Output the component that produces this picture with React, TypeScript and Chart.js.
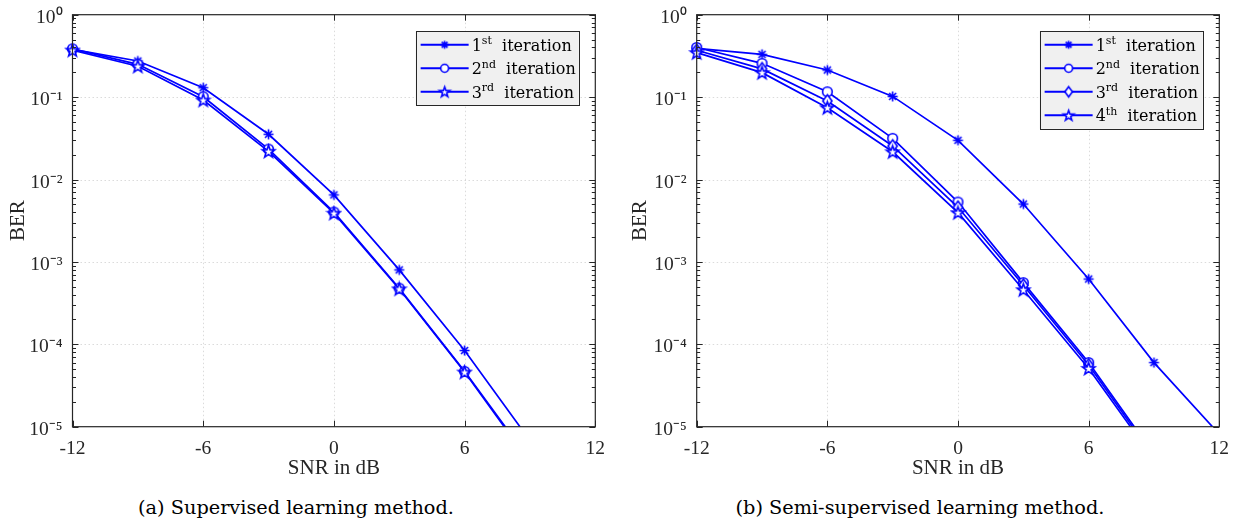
import React, { useEffect, useRef } from 'react';
import { Chart, registerables } from 'chart.js';

Chart.register(...registerables);

// ---------------- data ----------------
const snrSupervised = [-12, -9, -6, -3, 0, 3, 6, 9];
const supIter1 = [0.38, 0.274, 0.13, 0.0354, 0.0065, 8.0e-4, 8.4e-5, 6.8e-6];
const supIter2 = [0.385, 0.25, 0.101, 0.0234, 0.00403, 4.8e-4, 4.7e-5, 3.9e-6];
const supIter3 = [0.372, 0.237, 0.092, 0.022, 0.0039, 4.7e-4, 4.6e-5, 3.7e-6];

const snrSemi = [-12, -9, -6, -3, 0, 3, 6, 9, 12];
const semiIter1 = [0.39, 0.33, 0.213, 0.102, 0.0299, 0.00504, 6.2e-4, 6.0e-5, 8.1e-6];
const semiIter2 = [0.4, 0.257, 0.116, 0.0316, 0.00533, 5.6e-4, 6.0e-5, 4.6e-6];
const semiIter3 = [0.37, 0.22, 0.0897, 0.0255, 0.0046, 5.2e-4, 5.6e-5, 4.3e-6];
const semiIter4 = [0.346, 0.198, 0.0743, 0.0217, 0.00396, 4.6e-4, 5.1e-5, 4.0e-6];

const xTickValues = [-12, -6, 0, 6, 12];
const xTickLabels = ['-12', '-6', '0', '6', '12'];
const yTickValues = [1e-5, 1e-4, 1e-3, 1e-2, 1e-1, 1];
const yTickLabels = ['10⁻⁵', '10⁻⁴', '10⁻³', '10⁻²', '10⁻¹', '10⁰'];
const ordinalNums = ['1', '2', '3', '4'];
const ordinalSuffixes = ['st', 'nd', 'rd', 'th'];
const legendWord = 'iteration';
const xTitle = 'SNR in dB';
const yTitle = 'BER';
const captions = ['(a) Supervised learning method.', '(b) Semi-supervised learning method.'];

// ---------------- style ----------------
const BLUE = '#0000ff';
const AXIS = '#262626';
const TICK_FONT = { family: "'Liberation Serif', 'Times New Roman', serif", size: 19.5 };
const TITLE_FONT = { family: "'Liberation Serif', 'Times New Roman', serif", size: 21 };
const LEG_FONT = "16px 'DejaVu Serif', serif";
const LEG_SUP_FONT = "11px 'DejaVu Serif', serif";
const FONT_LOADS = ["19.5px 'Liberation Serif'", "21px 'Liberation Serif'", "16px 'DejaVu Serif'", "11px 'DejaVu Serif'"];

type MarkerKind = 'asterisk' | 'circle' | 'diamond' | 'pentagram';

function makeMarker(kind: MarkerKind, scale: number): HTMLCanvasElement {
  const size = 17;
  const c = document.createElement('canvas');
  c.width = size;
  c.height = size;
  const ctx = c.getContext('2d')!;
  const m = size / 2;
  ctx.strokeStyle = BLUE;
  ctx.fillStyle = '#ffffff';
  ctx.lineWidth = 1.6;
  ctx.beginPath();
  if (kind === 'asterisk') {
    const r = 5 * scale;
    for (let k = 0; k < 4; k++) {
      const a = (k * Math.PI) / 4;
      ctx.moveTo(m - r * Math.cos(a), m - r * Math.sin(a));
      ctx.lineTo(m + r * Math.cos(a), m + r * Math.sin(a));
    }
    ctx.stroke();
  } else if (kind === 'circle') {
    ctx.arc(m, m, 4.8 * scale, 0, Math.PI * 2);
    ctx.fill();
    ctx.stroke();
  } else if (kind === 'diamond') {
    ctx.moveTo(m, m - 6.2 * scale);
    ctx.lineTo(m + 4.6 * scale, m);
    ctx.lineTo(m, m + 6.2 * scale);
    ctx.lineTo(m - 4.6 * scale, m);
    ctx.closePath();
    ctx.fill();
    ctx.stroke();
  } else {
    const R = 6.6 * scale;
    const r = R * 0.4;
    for (let k = 0; k < 10; k++) {
      const rad = k % 2 === 0 ? R : r;
      const a = -Math.PI / 2 + (k * Math.PI) / 5;
      const px = m + rad * Math.cos(a);
      const py = m + 0.5 + rad * Math.sin(a);
      if (k === 0) ctx.moveTo(px, py);
      else ctx.lineTo(px, py);
    }
    ctx.closePath();
    ctx.fill();
    ctx.stroke();
  }
  return c;
}

// grid, box and minor ticks in MATLAB style
const matlabAxes = {
  id: 'matlabAxes',
  beforeDatasetsDraw(chart: any) {
    const { ctx, chartArea: a, scales } = chart;
    const x = scales.x;
    const y = scales.y;
    ctx.save();
    ctx.strokeStyle = 'rgba(0,0,0,0.14)';
    ctx.lineWidth = 1;
    ctx.setLineDash([1.5, 2.5]);
    ctx.beginPath();
    xTickValues.slice(1, -1).forEach((v) => {
      const px = Math.round(x.getPixelForValue(v)) + 0.5;
      ctx.moveTo(px, a.top);
      ctx.lineTo(px, a.bottom);
    });
    yTickValues.slice(1, -1).forEach((v) => {
      const py = Math.round(y.getPixelForValue(v)) + 0.5;
      ctx.moveTo(a.left, py);
      ctx.lineTo(a.right, py);
    });
    ctx.stroke();
    ctx.restore();
  },
  afterDatasetsDraw(chart: any) {
    const { ctx, chartArea: a, scales } = chart;
    const x = scales.x;
    const y = scales.y;
    ctx.save();
    ctx.strokeStyle = AXIS;
    ctx.lineWidth = 1;
    ctx.beginPath();
    xTickValues.forEach((v) => {
      const px = Math.round(x.getPixelForValue(v)) + 0.5;
      ctx.moveTo(px, a.bottom);
      ctx.lineTo(px, a.bottom - 6);
      ctx.moveTo(px, a.top);
      ctx.lineTo(px, a.top + 6);
    });
    for (let e = -5; e <= 0; e++) {
      for (let m = 1; m <= 9; m++) {
        if (e === 0 && m > 1) break;
        const v = m * Math.pow(10, e);
        const py = Math.round(y.getPixelForValue(v)) + 0.5;
        const len = m === 1 ? 6 : 3.5;
        ctx.moveTo(a.left, py);
        ctx.lineTo(a.left + len, py);
        ctx.moveTo(a.right, py);
        ctx.lineTo(a.right - len, py);
      }
    }
    ctx.stroke();
    ctx.lineWidth = 1.2;
    ctx.strokeRect(a.left, a.top, a.right - a.left, a.bottom - a.top);
    ctx.restore();
  },
};

// legend with superscript ordinals
const iterLegend = {
  id: 'iterLegend',
  afterDraw(chart: any, _args: any, opts: any) {
    const items: { num: string; suf: string; marker: HTMLCanvasElement }[] = opts.items || [];
    if (!items.length) return;
    const { ctx, chartArea: a } = chart;
    ctx.save();
    const widths = items.map((it) => {
      ctx.font = LEG_FONT;
      const w1 = ctx.measureText(it.num).width;
      const w3 = ctx.measureText('  ' + legendWord).width;
      ctx.font = LEG_SUP_FONT;
      const w2 = ctx.measureText(it.suf).width;
      return w1 + w2 + w3;
    });
    const textX = 56;
    const rowH = 23.5;
    const boxW = textX + Math.max(...widths) + 3;
    const boxH = items.length * rowH + 3.5;
    const left = a.right - 16.5 - boxW;
    const top = a.top + 16.6;
    ctx.fillStyle = '#f0f0f0';
    ctx.fillRect(left, top, boxW, boxH);
    ctx.strokeStyle = AXIS;
    ctx.lineWidth = 1;
    ctx.strokeRect(Math.round(left) + 0.5, Math.round(top) + 0.5, Math.round(boxW), Math.round(boxH));
    items.forEach((it, i) => {
      const cy = top + 1.75 + rowH / 2 + i * rowH;
      ctx.strokeStyle = BLUE;
      ctx.lineWidth = 2;
      ctx.beginPath();
      ctx.moveTo(left + 5, cy);
      ctx.lineTo(left + 53, cy);
      ctx.stroke();
      ctx.drawImage(it.marker, left + 29 - it.marker.width / 2, cy - it.marker.height / 2);
      ctx.fillStyle = '#000000';
      ctx.textBaseline = 'alphabetic';
      ctx.textAlign = 'left';
      const base = cy + 5.8;
      let tx = left + textX;
      ctx.font = LEG_FONT;
      ctx.fillText(it.num, tx, base);
      tx += ctx.measureText(it.num).width;
      ctx.font = LEG_SUP_FONT;
      ctx.fillText(it.suf, tx, base - 6.5);
      tx += ctx.measureText(it.suf).width;
      ctx.font = LEG_FONT;
      ctx.fillText('  ' + legendWord, tx, base);
    });
    ctx.restore();
  },
};

type Series = { values: number[]; marker: MarkerKind };

function buildConfig(
  snr: number[],
  series: Series[],
  yAxisWidth: number,
  rightPad: number,
  yTitlePad: number
) {
  const markers = series.map((s) => makeMarker(s.marker, 1));
  const legMarkers = series.map((s) => makeMarker(s.marker, 0.82));
  const datasets = series.map((s, i) => ({
    label: ordinalNums[i] + ordinalSuffixes[i] + ' ' + legendWord,
    data: s.values.map((v, k) => ({ x: snr[k], y: v })),
    borderColor: BLUE,
    backgroundColor: BLUE,
    borderWidth: 1.7,
    pointStyle: markers[i],
    pointRadius: 5,
    pointHoverRadius: 5,
    tension: 0,
    clip: { left: 12, right: 12, top: 12, bottom: 0 },
    order: series.length - i,
  }));
  return {
    type: 'line',
    data: { datasets },
    plugins: [matlabAxes, iterLegend],
    options: {
      animation: false,
      responsive: false,
      maintainAspectRatio: false,
      events: [],
      layout: { padding: { left: 0, top: 14.7, right: rightPad, bottom: 0 } },
      plugins: {
        legend: { display: false },
        tooltip: { enabled: false },
        iterLegend: {
          items: series.map((_s, i) => ({ num: ordinalNums[i], suf: ordinalSuffixes[i], marker: legMarkers[i] })),
        },
      },
      scales: {
        x: {
          type: 'linear',
          min: -12,
          max: 12,
          afterBuildTicks: (s: any) => {
            s.ticks = xTickValues.map((v) => ({ value: v }));
          },
          afterFit: (s: any) => {
            s.height = 58.3;
          },
          ticks: {
            autoSkip: false,
            maxRotation: 0,
            padding: 2,
            color: AXIS,
            font: TICK_FONT,
            callback: (v: number) => {
              const i = xTickValues.indexOf(v);
              return i >= 0 ? xTickLabels[i] : '';
            },
          },
          grid: { display: false },
          border: { display: false },
          title: { display: true, text: xTitle, color: AXIS, font: TITLE_FONT, padding: { top: 0, bottom: 3.5 } },
        },
        y: {
          type: 'logarithmic',
          min: 1e-5,
          max: 1,
          afterBuildTicks: (s: any) => {
            s.ticks = yTickValues.map((v) => ({ value: v }));
          },
          afterFit: (s: any) => {
            s.width = yAxisWidth;
          },
          ticks: {
            autoSkip: false,
            padding: 2,
            labelOffset: 3,
            color: AXIS,
            font: TICK_FONT,
            callback: (v: number) => {
              const i = yTickValues.findIndex((t) => Math.abs(Math.log10(t) - Math.log10(v)) < 1e-6);
              return i >= 0 ? yTickLabels[i] : '';
            },
          },
          grid: { display: false },
          border: { display: false },
          title: { display: true, text: yTitle, color: AXIS, font: TITLE_FONT, padding: { top: yTitlePad, bottom: 0 } },
        },
      },
    },
  };
}

function BerPanel(props: {
  left: number;
  width: number;
  snr: number[];
  series: Series[];
  yAxisWidth: number;
  rightPad: number;
  yTitlePad: number;
}) {
  const ref = useRef<HTMLCanvasElement>(null);
  useEffect(() => {
    const cfg: any = buildConfig(props.snr, props.series, props.yAxisWidth, props.rightPad, props.yTitlePad);
    const chart = new Chart(ref.current as HTMLCanvasElement, cfg);
    let alive = true;
    const redraw = () => {
      if (alive) chart.update();
    };
    const fonts: any = (document as any).fonts;
    if (fonts && fonts.load) {
      Promise.all(FONT_LOADS.map((f) => fonts.load(f)))
        .then(redraw)
        .catch(redraw);
    }
    const t1 = setTimeout(redraw, 60);
    const t2 = setTimeout(redraw, 300);
    return () => {
      alive = false;
      clearTimeout(t1);
      clearTimeout(t2);
      chart.destroy();
    };
  }, []);
  return (
    <canvas
      ref={ref}
      width={props.width}
      height={485}
      style={{ position: 'absolute', left: props.left, top: 0, width: props.width, height: 485, display: 'block' }}
    />
  );
}

export default function App() {
  const captionStyle = (cx: number): React.CSSProperties => ({
    position: 'absolute',
    left: cx - 250,
    width: 500,
    top: 496,
    textAlign: 'center',
    fontFamily: "'DejaVu Serif', serif",
    fontSize: 19.3,
    lineHeight: '24px',
    color: '#000',
    whiteSpace: 'nowrap',
  });
  return (
    <div style={{ position: 'absolute', left: 0, top: 0, width: 1239, height: 525, background: '#fff', overflow: 'hidden' }}>
      <div style={{ position: 'absolute', left: 0, top: 0, visibility: 'hidden', pointerEvents: 'none' }}>
        <span style={{ fontFamily: "'Liberation Serif'", fontSize: 19 }}>10⁻¹ SNR</span>
        <span style={{ fontFamily: "'DejaVu Serif'", fontSize: 16 }}>iteration</span>
      </div>
      <BerPanel
        left={0}
        width={620}
        snr={snrSupervised}
        series={[
          { values: supIter1, marker: 'asterisk' },
          { values: supIter2, marker: 'circle' },
          { values: supIter3, marker: 'pentagram' },
        ]}
        yAxisWidth={72.5}
        rightPad={24.7}
        yTitlePad={5.7}
      />
      <BerPanel
        left={620}
        width={619}
        snr={snrSemi}
        series={[
          { values: semiIter1, marker: 'asterisk' },
          { values: semiIter2, marker: 'circle' },
          { values: semiIter3, marker: 'diamond' },
          { values: semiIter4, marker: 'pentagram' },
        ]}
        yAxisWidth={76.7}
        rightPad={19.7}
        yTitlePad={8.1}
      />
      <div style={captionStyle(296)}>{captions[0]}</div>
      <div style={captionStyle(920)}>{captions[1]}</div>
    </div>
  );
}
